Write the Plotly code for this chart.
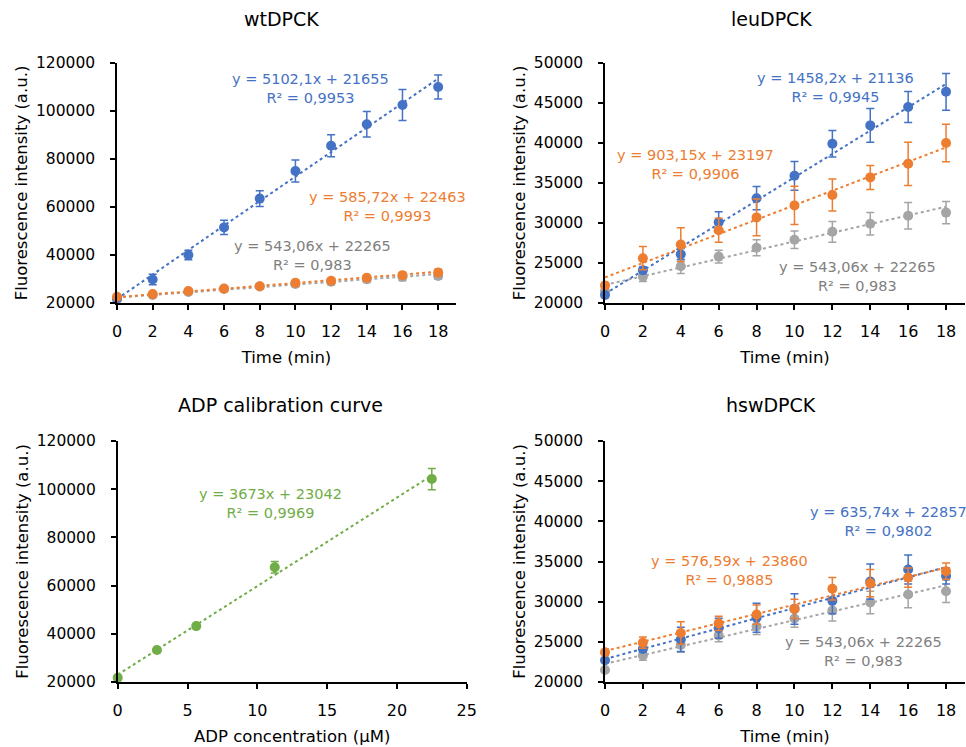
import plotly.graph_objects as go

# ---------------- data ----------------
time_min = [0, 2, 4, 6, 8, 10, 12, 14, 16, 18]

wt_blue = [22000, 29800, 40000, 51500, 63500, 75000, 85500, 94500, 102500, 110000]
wt_blue_err = [600, 2200, 2000, 3000, 3300, 4600, 4600, 5300, 6500, 5000]
wt_orange = [22600, 23700, 25000, 26000, 27000, 28400, 29300, 30500, 31600, 32700]
wt_orange_err = [400, 500, 600, 600, 700, 800, 800, 900, 900, 1400]

gray_ctrl = [21500, 23300, 24600, 25800, 26900, 27900, 28900, 29900, 30900, 31300]
gray_ctrl_err = [300, 600, 900, 800, 1000, 1100, 1300, 1400, 1650, 1400]

leu_blue = [21000, 24100, 26100, 30100, 33100, 35900, 39900, 42200, 44500, 46400]
leu_blue_err = [300, 400, 700, 1300, 1450, 1800, 1650, 2100, 1950, 2300]
leu_orange = [22200, 25600, 27300, 29100, 30700, 32200, 33500, 35700, 37400, 40000]
leu_orange_err = [300, 1450, 2100, 1500, 2300, 2400, 2000, 1500, 2700, 2350]

hsw_blue = [22700, 24100, 25300, 26700, 28000, 29100, 30100, 32500, 34000, 33200]
hsw_blue_err = [300, 400, 1500, 1250, 1800, 1900, 1600, 2200, 1800, 1000]
hsw_orange = [23700, 24900, 26100, 27300, 28400, 29100, 31600, 32300, 33000, 33800]
hsw_orange_err = [400, 700, 1400, 900, 1200, 1200, 1400, 1700, 1200, 1000]

adp_conc = [0, 2.8125, 5.625, 11.25, 22.5]
adp_fluor = [21800, 33300, 43200, 67600, 104200]
adp_err = [500, 600, 700, 2400, 4400]

# trendline equations (slope, intercept) as printed on the chart
fit_wt_blue = (5102.1, 21655)
fit_wt_orange = (585.72, 22463)
fit_gray = (543.06, 22265)
fit_leu_blue = (1458.2, 21136)
fit_leu_orange = (903.15, 23197)
fit_hsw_blue = (635.74, 22857)
fit_hsw_orange = (576.59, 23860)
fit_adp = (3673, 23042)

eq_wt_blue = "y = 5102,1x + 21655<br>R² = 0,9953"
eq_wt_orange = "y = 585,72x + 22463<br>R² = 0,9993"
eq_gray = "y = 543,06x + 22265<br>R² = 0,983"
eq_leu_blue = "y = 1458,2x + 21136<br>R² = 0,9945"
eq_leu_orange = "y = 903,15x + 23197<br>R² = 0,9906"
eq_hsw_blue = "y = 635,74x + 22857<br>R² = 0,9802"
eq_hsw_orange = "y = 576,59x + 23860<br>R² = 0,9885"
eq_adp = "y = 3673x + 23042<br>R² = 0,9969"

titles = ["wtDPCK", "leuDPCK", "ADP calibration curve", "hswDPCK"]

# ---------------- style ----------------
BLUE = "#4472C4"
ORANGE = "#ED7D31"
GRAY = "#A5A5A5"
GRAY_TXT = "#7F7F7F"
GREEN = "#70AD47"
FONT = "DejaVu Sans"

W, H = 966, 747


def px_x(p):
    return p / W


def px_y(p):
    return 1 - p / H


fig = go.Figure()


def add_series(x, y, err, color, xa, ya):
    fig.add_trace(go.Scatter(
        x=x, y=y, mode="markers",
        marker=dict(color=color, size=10),
        error_y=dict(type="data", array=err, visible=True, color=color,
                     thickness=1.5, width=4),
        xaxis=xa, yaxis=ya, showlegend=False, hoverinfo="skip", cliponaxis=False))


def add_fit(fit, x0, x1, color, xa, ya):
    m, b = fit
    fig.add_trace(go.Scatter(
        x=[x0, x1], y=[m * x0 + b, m * x1 + b], mode="lines",
        line=dict(color=color, width=2, dash="dot"),
        xaxis=xa, yaxis=ya, showlegend=False, hoverinfo="skip"))


# panel 1 : wtDPCK
add_fit(fit_gray, 0, 18, GRAY, "x", "y")
add_fit(fit_wt_blue, 0, 18, BLUE, "x", "y")
add_fit(fit_wt_orange, 0, 18, ORANGE, "x", "y")
add_series(time_min, gray_ctrl, gray_ctrl_err, GRAY, "x", "y")
add_series(time_min, wt_blue, wt_blue_err, BLUE, "x", "y")
add_series(time_min, wt_orange, wt_orange_err, ORANGE, "x", "y")

# panel 2 : leuDPCK
add_fit(fit_gray, 0, 18, GRAY, "x2", "y2")
add_fit(fit_leu_blue, 0, 18, BLUE, "x2", "y2")
add_fit(fit_leu_orange, 0, 18, ORANGE, "x2", "y2")
add_series(time_min, gray_ctrl, gray_ctrl_err, GRAY, "x2", "y2")
add_series(time_min, leu_blue, leu_blue_err, BLUE, "x2", "y2")
add_series(time_min, leu_orange, leu_orange_err, ORANGE, "x2", "y2")

# panel 3 : ADP calibration
add_fit(fit_adp, 0, 22.5, GREEN, "x3", "y3")
add_series(adp_conc, adp_fluor, adp_err, GREEN, "x3", "y3")

# panel 4 : hswDPCK
add_fit(fit_gray, 0, 18, GRAY, "x4", "y4")
add_fit(fit_hsw_blue, 0, 18, BLUE, "x4", "y4")
add_fit(fit_hsw_orange, 0, 18, ORANGE, "x4", "y4")
add_series(time_min, gray_ctrl, gray_ctrl_err, GRAY, "x4", "y4")
add_series(time_min, hsw_blue, hsw_blue_err, BLUE, "x4", "y4")
add_series(time_min, hsw_orange, hsw_orange_err, ORANGE, "x4", "y4")


def xax(dom, rng, dtick, title, anchor):
    return dict(domain=dom, range=rng, dtick=dtick, tick0=0, anchor=anchor,
                automargin=False,
                showline=True, linecolor="black", linewidth=1.5,
                ticks="outside", ticklen=5, tickcolor="black", tickwidth=1.5,
                showgrid=False, zeroline=False, ticklabelstandoff=8,
                tickfont=dict(family=FONT, size=16, color="black"),
                title=dict(text=title, standoff=11,
                           font=dict(family=FONT, size=16.5, color="black")))


def yax(dom, rng, dtick, anchor):
    return dict(domain=dom, range=rng, dtick=dtick, anchor=anchor,
                automargin=False,
                showline=True, linecolor="black", linewidth=1.5,
                ticks="outside", ticklen=5, tickcolor="black", tickwidth=1.5,
                showgrid=False, zeroline=False, ticklabelstandoff=12,
                tickformat="d",
                tickfont=dict(family=FONT, size=15.5, color="black"),
                title=dict(text="Fluorescence intensity (a.u.)", standoff=4,
                           font=dict(family=FONT, size=16.5, color="black")))


x1d = [px_x(117), px_x(456)]
x2d = [px_x(605), px_x(965)]
x3d = [px_x(117.7), px_x(466.7)]
y1d = [px_y(303), px_y(63)]
y3d = [px_y(682), px_y(441)]

fig.update_layout(
    width=W, height=H,
    margin=dict(l=0, r=0, t=0, b=0, autoexpand=False),
    paper_bgcolor="white", plot_bgcolor="white",
    font=dict(family=FONT),
    xaxis=xax(x1d, [0, 19], 2, "Time (min)", "y"),
    yaxis=yax(y1d, [20000, 120000], 20000, "x"),
    xaxis2=xax(x2d, [0, 19], 2, "Time (min)", "y2"),
    yaxis2=yax(y1d, [20000, 50000], 5000, "x2"),
    xaxis3=xax(x3d, [0, 25], 5, "ADP concentration (µM)", "y3"),
    yaxis3=yax(y3d, [20000, 120000], 20000, "x3"),
    xaxis4=xax(x2d, [0, 19], 2, "Time (min)", "y4"),
    yaxis4=yax(y3d, [20000, 50000], 5000, "x4"),
)

anns = []


def ann_px(text, cx, cy, color, size=14.5):
    anns.append(dict(text=text, x=px_x(cx), y=px_y(cy), xref="paper", yref="paper",
                     xanchor="center", yanchor="middle", showarrow=False, align="center",
                     font=dict(family=FONT, size=size, color=color)))


# titles
ann_px(titles[0], 281, 19, "black", 19)
ann_px(titles[1], 771, 19, "black", 19)
ann_px(titles[2], 280, 405, "black", 19)
ann_px(titles[3], 771, 405, "black", 19)

# equations
ann_px(eq_wt_blue, 310, 88, BLUE)
ann_px(eq_wt_orange, 387, 206, ORANGE)
ann_px(eq_gray, 312, 255, GRAY_TXT)
ann_px(eq_leu_blue, 835, 87, BLUE)
ann_px(eq_leu_orange, 695, 165, ORANGE)
ann_px(eq_gray, 857, 277, GRAY_TXT)
ann_px(eq_adp, 270, 503, GREEN)
ann_px(eq_hsw_blue, 888, 521, BLUE)
ann_px(eq_hsw_orange, 729, 570, ORANGE)
ann_px(eq_gray, 863, 651, GRAY_TXT)

fig.update_layout(annotations=anns)

fig.write_html("out.html",
               config={"displayModeBar": False},
               post_script="document.body.style.margin='0';document.body.style.overflow='hidden';")
